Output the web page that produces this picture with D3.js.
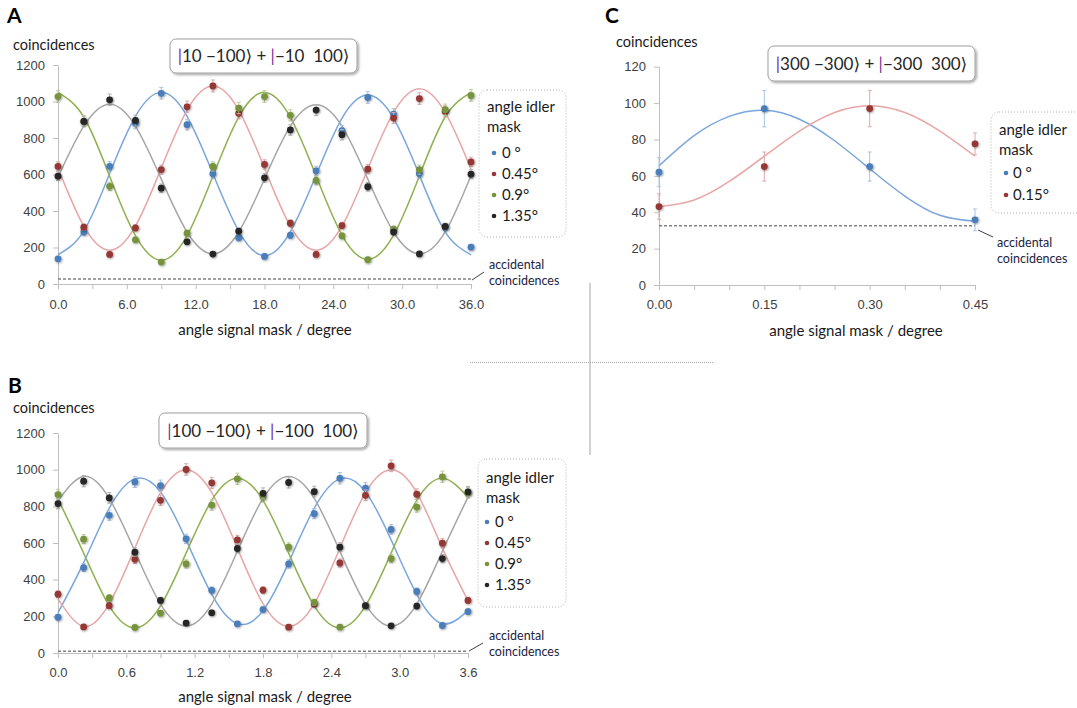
<!DOCTYPE html>
<head>
  <meta charset="utf-8">
  <script src="https://d3js.org/d3.v7.min.js"></script>
  <style>
    body { margin:0; background:#fff; }
    svg { display:block; font-family: Lato, "DejaVu Sans", sans-serif; }
    .tick text { fill:#404040; font-size:13px; }
    .domain, .tick line { stroke:#bfbfbf; }
  </style>
</head>

<body>
  <svg width="1077" height="708"></svg>
  <script>
    // --- data ---
    var seriesNamesAB = ['0 °', '0.45°', '0.9°', '1.35°'];
    var seriesNamesC = ['0 °', '0.15°'];

    // panel A: |10 -100> + |-10 100>
    var xA = [0, 2.25, 4.5, 6.75, 9, 11.25, 13.5, 15.75, 18, 20.25, 22.5, 24.75, 27, 29.25, 31.5, 33.75, 36];
    var aBlue  = [138, 285, 645, 880, 1045, 873, 604, 253, 151, 267, 620, 840, 1022, 931, 604, 310, 202];
    var aRed   = [644, 311, 162, 307, 627, 971, 1085, 935, 655, 333, 162, 320, 629, 909, 1016, 945, 669];
    var aGreen = [1027, 891, 535, 242, 120, 278, 644, 964, 1027, 924, 567, 264, 133, 300, 627, 955, 1033];
    var aBlack = [591, 891, 1009, 896, 525, 231, 164, 289, 582, 844, 953, 818, 533, 285, 165, 315, 602];
    // fitted curves, sampled at the same angles
    var aFitBlue  = [160, 290, 605, 919, 1050, 919, 605, 290, 155, 286, 597, 908, 1035, 908, 597, 286, 160];
    var aFitRed   = [635, 317, 185, 317, 635, 953, 1085, 953, 635, 317, 185, 317, 630, 940, 1070, 940, 630];
    var aFitGreen = [1050, 915, 590, 265, 130, 265, 590, 915, 1050, 915, 592, 268, 135, 268, 592, 915, 1050];
    var aFitBlack = [585, 865, 985, 865, 575, 285, 165, 285, 575, 865, 982, 865, 575, 285, 165, 285, 595];
    var aAccidental = 27;
    var aTicksX = [0, 3, 6, 9, 12, 15, 18, 21, 24, 27, 30, 33, 36];
    var aTickLabelsX = ['0.0', '', '6.0', '', '12.0', '', '18.0', '', '24.0', '', '30.0', '', '36.0'];

    // panel B: |100 -100> + |-100 100>
    var xB = [0, 0.225, 0.45, 0.675, 0.9, 1.125, 1.35, 1.575, 1.8, 2.025, 2.25, 2.475, 2.7, 2.925, 3.15, 3.375, 3.6];
    var bBlue  = [195, 466, 751, 933, 913, 623, 342, 159, 237, 486, 760, 953, 899, 674, 336, 150, 226];
    var bRed   = [321, 142, 258, 511, 833, 1001, 928, 617, 343, 141, 267, 491, 860, 1021, 866, 599, 287];
    var bGreen = [864, 621, 300, 139, 217, 486, 807, 950, 851, 577, 276, 141, 258, 515, 796, 961, 873];
    var bBlack = [815, 937, 846, 550, 287, 163, 219, 570, 871, 930, 880, 577, 258, 148, 256, 515, 879];
    var bFitBlue  = [220, 493, 790, 950, 879, 617, 320, 160, 231, 493, 790, 950, 879, 617, 320, 160, 231];
    var bFitRed   = [295, 145, 269, 572, 875, 1000, 875, 572, 269, 145, 269, 572, 875, 1000, 875, 572, 285];
    var bFitGreen = [840, 545, 257, 137, 257, 545, 833, 953, 833, 545, 257, 137, 257, 545, 833, 953, 850];
    var bFitBlack = [830, 963, 843, 555, 267, 147, 267, 555, 843, 963, 843, 555, 267, 147, 267, 555, 850];
    var bAccidental = 10;
    var bTicksX = [0, 0.3, 0.6, 0.9, 1.2, 1.5, 1.8, 2.1, 2.4, 2.7, 3.0, 3.3, 3.6];
    var bTickLabelsX = ['0.0', '', '0.6', '', '1.2', '', '1.8', '', '2.4', '', '3.0', '', '3.6'];

    var ticksYAB = [0, 200, 400, 600, 800, 1000, 1200];

    // panel C: |300 -300> + |-300 300>
    var xC = [0, 0.15, 0.30, 0.45];
    var cBlue = [62, 96.9, 65.1, 35.8];
    var cBlueErr = [8, 10, 8, 6];
    var cRed = [43.1, 65.1, 97, 77.6];
    var cRedErr = [7, 8, 10, 6];
    var xCFit = [0, 0.05, 0.10, 0.15, 0.20, 0.25, 0.30, 0.35, 0.40, 0.45];
    var cFitBlue = [65.5, 82.1, 92.7, 96.0, 91.1, 79.3, 63.9, 48.9, 38.3, 35.0];
    var cFitRed = [43.0, 46.7, 56.9, 70.8, 84.6, 94.8, 98.5, 94.8, 84.6, 70.8];
    var cAccidental = 32.6;
    var cTicksX = [0, 0.05, 0.10, 0.15, 0.20, 0.25, 0.30, 0.35, 0.40, 0.45];
    var cTickLabelsX = ['0.00', '', '', '0.15', '', '', '0.30', '', '', '0.45'];
    var ticksYC = [0, 20, 40, 60, 80, 100, 120];

    // colours: point, fit line, error bar
    var pointColors = ['#4a7ebb', '#953735', '#77933c', '#262626'];
    var lineColors  = ['#7aa6dc', '#e8a6a6', '#8fb150', '#a6a6a6'];
    var errColors   = ['#a9c3e4', '#dcaaaa', '#bccf98', '#b0b0b0'];

    var svg = d3.select('svg');

    var defs = svg.append('defs');
    var f = defs.append('filter').attr('id', 'ptshadow')
      .attr('x', '-50%').attr('y', '-50%').attr('width', '200%').attr('height', '200%');
    f.append('feDropShadow').attr('dx', 0.8).attr('dy', 0.8).attr('stdDeviation', 0.9)
      .attr('flood-color', '#000').attr('flood-opacity', 0.45);
    var f2 = defs.append('filter').attr('id', 'boxshadow')
      .attr('x', '-10%').attr('y', '-20%').attr('width', '130%').attr('height', '160%');
    f2.append('feDropShadow').attr('dx', 1.5).attr('dy', 1.5).attr('stdDeviation', 1)
      .attr('flood-color', '#000').attr('flood-opacity', 0.35);

    function drawPanel(p) {
      var g = svg.append('g');
      var x = d3.scaleLinear().domain(p.xDomain).range([p.left, p.right]);
      var y = d3.scaleLinear().domain(p.yDomain).range([p.bottom, p.top]);

      // axes
      g.append('g')
        .attr('transform', 'translate(' + [p.left, 0] + ')')
        .call(d3.axisLeft(y).tickValues(p.yTicks).tickSize(5).tickSizeOuter(0).tickPadding(8).tickFormat(d3.format('d')));
      g.append('g')
        .attr('transform', 'translate(' + [0, p.bottom] + ')')
        .call(d3.axisBottom(x).tickValues(p.xTicks).tickSize(5).tickSizeOuter(0).tickPadding(p.xPad)
          .tickFormat(function(d, i) { return p.xTickLabels[i]; }));

      // accidental coincidences
      g.append('line')
        .attr('x1', x(p.xDomain[0])).attr('x2', x(p.xDomain[1]))
        .attr('y1', y(p.accidental)).attr('y2', y(p.accidental))
        .attr('stroke', '#808080').attr('stroke-width', 1.5).attr('stroke-dasharray', '3,2');
      g.append('line')
        .attr('x1', p.leader[0]).attr('y1', p.leader[1]).attr('x2', p.leader[2]).attr('y2', p.leader[3])
        .attr('stroke', '#404040').attr('stroke-width', 1);
      var acc = g.append('text').attr('font-size', 12.5).attr('fill', '#1d2340');
      acc.append('tspan').attr('x', p.accText[0]).attr('y', p.accText[1]).text('accidental');
      acc.append('tspan').attr('x', p.accText[0]).attr('y', p.accText[1] + 16).text('coincidences');

      // fit curves
      var line = d3.line().curve(d3.curveNatural)
        .x(function(d) { return x(d[0]); })
        .y(function(d) { return y(d[1]); });
      p.fits.forEach(function(fit, i) {
        g.append('path')
          .datum(d3.zip(p.fitX, fit))
          .attr('fill', 'none')
          .attr('stroke', lineColors[i])
          .attr('stroke-width', 1.5)
          .attr('d', line);
      });

      // error bars + points
      p.series.forEach(function(vals, i) {
        // Poisson counting error unless given
        var errs = p.errors ? p.errors[i] : vals.map(function(v) { return Math.sqrt(v); });
        var pts = d3.zip(p.xs, vals, errs);
        var eb = g.append('g').attr('stroke', errColors[i]).attr('stroke-width', 1);
        eb.selectAll('line.v').data(pts).enter().append('line')
          .attr('x1', function(d) { return x(d[0]); }).attr('x2', function(d) { return x(d[0]); })
          .attr('y1', function(d) { return y(d[1] - d[2]); }).attr('y2', function(d) { return y(d[1] + d[2]); });
        eb.selectAll('line.t').data(pts).enter().append('line')
          .attr('x1', function(d) { return x(d[0]) - 2; }).attr('x2', function(d) { return x(d[0]) + 2; })
          .attr('y1', function(d) { return y(d[1] + d[2]); }).attr('y2', function(d) { return y(d[1] + d[2]); });
        eb.selectAll('line.b').data(pts).enter().append('line')
          .attr('x1', function(d) { return x(d[0]) - 2; }).attr('x2', function(d) { return x(d[0]) + 2; })
          .attr('y1', function(d) { return y(d[1] - d[2]); }).attr('y2', function(d) { return y(d[1] - d[2]); });
        g.append('g').attr('filter', 'url(#ptshadow)')
          .selectAll('circle').data(pts).enter().append('circle')
          .attr('cx', function(d) { return x(d[0]); })
          .attr('cy', function(d) { return y(d[1]); })
          .attr('r', 3.4)
          .attr('fill', pointColors[i]);
      });

      // panel letter, y label, x label
      g.append('text').attr('x', p.letter[0]).attr('y', p.letter[1])
        .attr('font-size', 21).attr('font-weight', 'bold').attr('fill', '#000').text(p.name);
      g.append('text').attr('x', p.ylab[0]).attr('y', p.ylab[1])
        .attr('font-size', 14.5).attr('fill', '#1a1a1a').text('coincidences');
      g.append('text').attr('x', p.xlab[0]).attr('y', p.xlab[1]).attr('text-anchor', 'middle')
        .attr('font-size', 15).attr('fill', '#1a1a1a').text('angle signal mask / degree');

      // title box
      var tb = p.titleBox;
      g.append('rect').attr('x', tb[0]).attr('y', tb[1]).attr('width', tb[2] - tb[0]).attr('height', tb[3] - tb[1])
        .attr('rx', 6).attr('fill', '#fff').attr('stroke', '#a0a0a0').attr('filter', 'url(#boxshadow)');
      var tt = g.append('text').attr('x', (tb[0] + tb[2]) / 2).attr('y', tb[1] + (tb[3] - tb[1]) / 2 + 6)
        .attr('text-anchor', 'middle').attr('font-size', 17).attr('fill', '#262626')
        .style('white-space', 'pre');
      p.title.forEach(function(part) {
        tt.append('tspan').attr('fill', part[1]).text(part[0]);
      });

      // legend
      var lb = p.legendBox;
      g.append('rect').attr('x', lb[0]).attr('y', lb[1]).attr('width', lb[2] - lb[0]).attr('height', lb[3] - lb[1])
        .attr('rx', 8).attr('fill', '#fff').attr('stroke', '#b0b0b0').attr('stroke-dasharray', '1,2');
      g.append('text').attr('x', lb[0] + 8).attr('y', p.legendY[0]).attr('font-size', 15).attr('fill', '#1a1a1a').text('angle idler');
      g.append('text').attr('x', lb[0] + 8).attr('y', p.legendY[0] + 20).attr('font-size', 15).attr('fill', '#1a1a1a').text('mask');
      p.names.forEach(function(n, i) {
        var yy = p.legendY[1] + i * p.legendStep;
        g.append('circle').attr('cx', p.legendX[0]).attr('cy', yy - 5).attr('r', 2.3).attr('fill', pointColors[i]);
        g.append('text').attr('x', p.legendX[1]).attr('y', yy).attr('font-size', 15).attr('fill', '#1a1a1a').text(n);
      });
    }

    var purple = '#7030a0', dark = '#262626';

    drawPanel({
      name: 'A', xDomain: [0, 36], yDomain: [0, 1200],
      left: 58, right: 471, top: 65, bottom: 284, xPad: 11,
      yTicks: ticksYAB, xTicks: aTicksX, xTickLabels: aTickLabelsX,
      xs: xA, series: [aBlue, aRed, aGreen, aBlack],
      fitX: xA, fits: [aFitBlue, aFitRed, aFitGreen, aFitBlack],
      accidental: aAccidental, leader: [472, 280, 484, 272], accText: [489, 269],
      letter: [7, 23], ylab: [13, 50], xlab: [265, 335],
      titleBox: [170, 39, 357, 73],
      title: [['|', purple], ['10 −100⟩ + ', dark], ['|', purple], ['−10  100⟩', dark]],
      legendBox: [479, 90, 566, 237], legendY: [112, 158], legendStep: 21,
      legendX: [494, 502], names: seriesNamesAB
    });

    drawPanel({
      name: 'B', xDomain: [0, 3.6], yDomain: [0, 1200],
      left: 58, right: 468, top: 433, bottom: 653, xPad: 10,
      yTicks: ticksYAB, xTicks: bTicksX, xTickLabels: bTickLabelsX,
      xs: xB, series: [bBlue, bRed, bGreen, bBlack],
      fitX: xB, fits: [bFitBlue, bFitRed, bFitGreen, bFitBlack],
      accidental: bAccidental, leader: [469, 651, 483, 643], accText: [489, 640],
      letter: [8, 393], ylab: [13, 413], xlab: [265, 702],
      titleBox: [159, 413, 367, 448],
      title: [['|', purple], ['100 −100⟩ + ', dark], ['|', purple], ['−100  100⟩', dark]],
      legendBox: [478, 459, 566, 607], legendY: [483, 527], legendStep: 21,
      legendX: [487, 495], names: seriesNamesAB
    });

    drawPanel({
      name: 'C', xDomain: [0, 0.45], yDomain: [0, 120],
      left: 659, right: 975, top: 66.7, bottom: 285, xPad: 9.5,
      yTicks: ticksYC, xTicks: cTicksX, xTickLabels: cTickLabelsX,
      xs: xC, series: [cBlue, cRed], errors: [cBlueErr, cRedErr],
      fitX: xCFit, fits: [cFitBlue, cFitRed],
      accidental: cAccidental, leader: [978, 230, 993, 237], accText: [997, 247],
      letter: [605, 23], ylab: [616, 47], xlab: [856, 336],
      titleBox: [768, 46, 975, 81],
      title: [['|', purple], ['300 −300⟩ + ', dark], ['|', purple], ['−300  300⟩', dark]],
      legendBox: [991, 112, 1090, 213], legendY: [135, 178], legendStep: 22,
      legendX: [1006, 1013], names: seriesNamesC
    });

    // separator lines between panels
    svg.append('line').attr('x1', 590).attr('x2', 590).attr('y1', 283).attr('y2', 455)
      .attr('stroke', '#a6a6a6').attr('stroke-width', 1);
    svg.append('line').attr('x1', 470).attr('x2', 713).attr('y1', 362.5).attr('y2', 362.5)
      .attr('stroke', '#a6a6a6').attr('stroke-width', 1).attr('stroke-dasharray', '1,1');
  </script>
</body>
